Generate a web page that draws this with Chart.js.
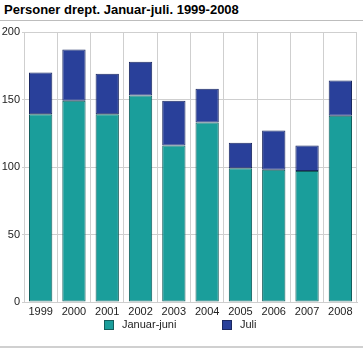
<!DOCTYPE html>
<html>
<head>
<meta charset="utf-8">
<script src="https://cdn.jsdelivr.net/npm/chart.js@4/dist/chart.umd.min.js"></script>
<style>
  html, body { margin: 0; padding: 0; background: #fff; }
  #wrap { position: relative; width: 363px; height: 350px; overflow: hidden; }
  #title { position: absolute; left: 4px; top: 2px; font: bold 13px "Liberation Sans", Arial, sans-serif; color: #000; white-space: nowrap; }
  #topline { position: absolute; left: 0; top: 20px; width: 363px; height: 1px; background: #bdbdbd; }
  #botline { position: absolute; left: 0; top: 346px; width: 363px; height: 2px; background: #d0d0d0; }
  canvas { position: absolute; left: 0; top: 0; }
</style>
</head>
<body>
<div id="wrap">
  <div id="title">Personer drept. Januar-juli. 1999-2008</div>
  <div id="topline"></div>
  <canvas id="c" width="363" height="350"></canvas>
  <div id="botline"></div>
</div>
<script>
const years = ["1999","2000","2001","2002","2003","2004","2005","2006","2007","2008"];
const januarJuni = [139, 149, 139, 153, 116, 133, 99, 98, 97, 138];
const juli = [31, 38, 30, 25, 33, 25, 19, 29, 19, 26];
const seriesNames = ["Januar-juni", "Juli"];
const yTicks = [0, 50, 100, 150, 200];

const FONT = "'Liberation Sans', Arial, sans-serif";

const legendPlugin = {
  id: 'customLegend',
  afterDraw(chart) {
    const ctx = chart.ctx;
    const pos = [{box: 104, text: 122}, {box: 222, text: 240}];
    const y = 325;
    ctx.save();
    chart.data.datasets.forEach((ds, i) => {
      const p = pos[i];
      ctx.fillStyle = ds.backgroundColor;
      ctx.fillRect(p.box, y - 5, 10, 10);
      ctx.strokeStyle = ds.borderColor;
      ctx.lineWidth = 1;
      ctx.strokeRect(p.box + 0.5, y - 4.5, 9, 9);
      ctx.fillStyle = '#222';
      ctx.font = '11px ' + FONT;
      ctx.textBaseline = 'middle';
      ctx.textAlign = 'left';
      ctx.fillText(ds.label, p.text, y);
    });
    ctx.restore();
  }
};

new Chart(document.getElementById('c'), {
  type: 'bar',
  data: {
    labels: years,
    datasets: [
      { label: seriesNames[0], data: januarJuni, backgroundColor: '#1a9e9b', borderColor: '#145e5c', borderWidth: 1, borderSkipped: false, barPercentage: 0.7, categoryPercentage: 1.0 },
      { label: seriesNames[1], data: juli, backgroundColor: '#29409a', borderColor: '#1b2860', borderWidth: 1, borderSkipped: false, barPercentage: 0.7, categoryPercentage: 1.0 }
    ]
  },
  options: {
    responsive: false,
    animation: false,
    devicePixelRatio: 1,
    layout: { padding: { top: 32, right: 6, bottom: 0, left: 0 } },
    plugins: { legend: { display: false }, tooltip: { enabled: false } },
    scales: {
      x: {
        stacked: true,
        afterFit: s => { s.height = 48; },
        grid: {
          offset: true,
          drawTicks: false,
          color: c => c.index === years.length ? '#dcdcdc' : '#cfcfcf',
          lineWidth: c => c.index === years.length ? 3 : 1
        },
        border: { color: '#cfcfcf' },
        ticks: { color: '#222', font: { family: FONT, size: 11 }, padding: 3, maxRotation: 0 }
      },
      y: {
        stacked: true,
        min: 0, max: 200,
        afterFit: s => { s.width = 24; },
        afterBuildTicks: s => { s.ticks = yTicks.map(v => ({ value: v })); },
        grid: { color: '#cfcfcf', tickLength: 2 },
        border: { color: '#cfcfcf' },
        ticks: { color: '#222', font: { family: FONT, size: 11 }, padding: 2 }
      }
    }
  },
  plugins: [legendPlugin]
});
</script>
</body>
</html>
